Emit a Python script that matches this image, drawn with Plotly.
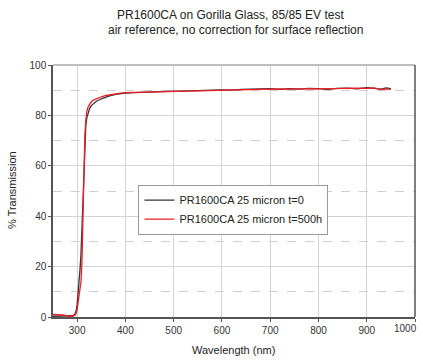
import plotly.graph_objects as go

wl_black = [250, 260, 270, 280, 290, 295, 298, 300, 302, 304, 306, 308, 310, 312, 314, 316, 318, 320, 323, 326, 330, 335, 340, 350, 360, 370, 380, 390, 400,
            420, 440, 460, 480, 500, 520, 540, 560, 580, 600, 620, 640, 660, 680, 700, 720, 740, 760, 780, 800, 820, 840, 860, 880, 900, 915, 930, 940, 950]
t_black = [0.3, 0.3, 0.3, 0.3, 0.5, 1.0, 2.5, 5, 9, 14, 19, 25, 35, 48, 62, 71, 76, 79, 81.5, 82.8, 84.0, 85.0, 85.6, 86.6, 87.3, 87.9, 88.3, 88.6, 88.8,
           89.0, 89.2, 89.2, 89.5, 89.6, 89.6, 89.8, 89.9, 90.0, 90.1, 90.0, 90.3, 90.4, 90.5, 90.6, 90.3, 90.6, 90.4, 90.7, 90.6, 90.3, 90.7, 90.8, 90.5, 91.0, 90.7, 90.4, 90.9, 90.6]

wl_red = [250, 260, 270, 280, 290, 295, 298, 300, 302, 304, 306, 308, 310, 312, 314, 316, 318, 320, 323, 326, 330, 335, 340, 350, 360, 370, 380, 390, 400,
          420, 440, 460, 480, 500, 520, 540, 560, 580, 600, 620, 640, 660, 680, 700, 720, 740, 760, 780, 800, 820, 840, 860, 880, 900, 915, 930, 940, 950]
t_red = [1.0, 0.9, 0.8, 0.4, 0.3, 0.6, 1.5, 3, 6, 10, 12, 14, 22, 40, 60, 72, 78, 81.5, 83.5, 84.6, 85.5, 86.2, 86.7, 87.4, 87.9, 88.3, 88.6, 88.8, 89.0,
         89.1, 89.2, 89.4, 89.5, 89.6, 89.7, 89.8, 89.9, 90.0, 90.0, 90.2, 90.2, 90.4, 90.4, 90.5, 90.5, 90.4, 90.6, 90.6, 90.5, 90.6, 90.6, 90.7, 90.8, 90.7, 90.9, 90.2, 90.5, 90.3]

x_ticks = [300, 400, 500, 600, 700, 800, 900, 1000]
x_tick_labels = ["300", "400", "500", "600", "700", "800", "900", ""]
last_x_label = "1000"
y_ticks = [0, 20, 40, 60, 80, 100]

names = ["PR1600CA 25 micron t=0", "PR1600CA 25 micron t=500h"]
colors = ["#333333", "#ee1c25"]

fig = go.Figure()
fig.add_trace(go.Scatter(x=wl_black, y=t_black, mode="lines", name=names[0],
                         line=dict(color=colors[0], width=1.3)))
fig.add_trace(go.Scatter(x=wl_red, y=t_red, mode="lines", name=names[1],
                         line=dict(color=colors[1], width=1.3)))

font = "Liberation Sans, Arial, sans-serif"
pl, pr, pt, pb = 53, 423 - 8, 65, 360 - 43


def px_to_paper(px, py):
    return (px - pl) / (pr - pl), (pb - py) / (pb - pt)


texts = [
    ("PR1600CA on Gorilla Glass, 85/85 EV test", 230, 15, 12, 0),
    ("air reference, no correction for surface reflection", 235, 30, 12, 0),
    ("Wavelength (nm)", 233, 350, 11, 0),
    ("% Transmission", 12, 190, 11, -90),
]
anns = []
for t, px, py, fs, ang in texts:
    x, y = px_to_paper(px, py)
    anns.append(dict(text=t, x=x, y=y, xref="paper", yref="paper", xanchor="center", yanchor="middle",
                     showarrow=False, textangle=ang, font=dict(size=fs, color="#222")))

# last x tick label, placed just inside the page edge
anns.append(dict(text=last_x_label, x=1, xref="paper", y=0, yref="paper",
                 xanchor="right", yanchor="top", xshift=3, yshift=-5, showarrow=False,
                 borderpad=0, font=dict(size=10, color="#333")))

fig.update_layout(
    width=423, height=360,
    margin=dict(l=53, r=8, t=65, b=43, autoexpand=False),
    paper_bgcolor="white", plot_bgcolor="white",
    font=dict(family=font, size=10, color="#222"),
    showlegend=True,
    legend=dict(x=0.236, y=0.525, xanchor="left", yanchor="top",
                bordercolor="#999", borderwidth=1, bgcolor="white",
                font=dict(size=11, color="#222"), tracegroupgap=0,
                itemwidth=30),
    xaxis=dict(range=[250, 1000], tickvals=x_ticks, ticktext=x_tick_labels,
               showgrid=True, gridcolor="#d4d4d4", gridwidth=1,
               showline=True, linecolor="#555", linewidth=1.5, mirror=False,
               ticks="outside", ticklen=3, tickcolor="#555", zeroline=False, automargin=False,
               tickfont=dict(size=10, color="#333")),
    yaxis=dict(range=[0, 100], tickvals=y_ticks, showgrid=True, gridcolor="#d4d4d4", gridwidth=1,
               showline=True, linecolor="#555", linewidth=1.5, mirror=False,
               ticks="outside", ticklen=3, tickcolor="#555", zeroline=False, automargin=False,
               tickfont=dict(size=10, color="#333"),
               minor=dict(tickvals=[10, 30, 50, 70, 90], showgrid=True, griddash="dash",
                          gridcolor="#cfcfcf", gridwidth=1, ticks="")),
    annotations=anns,
)

# frame: top grey, right dark
fig.add_shape(type="line", xref="paper", yref="paper", x0=0, x1=1, y0=1, y1=1, line=dict(color="#aaaaaa", width=1.5))
fig.add_shape(type="line", xref="paper", yref="paper", x0=1, x1=1, y0=0, y1=1, line=dict(color="#555", width=1.5))

fig.write_html("out.html", config={"displayModeBar": False},
               post_script="document.body.style.margin='0';document.body.style.overflow='hidden';")
